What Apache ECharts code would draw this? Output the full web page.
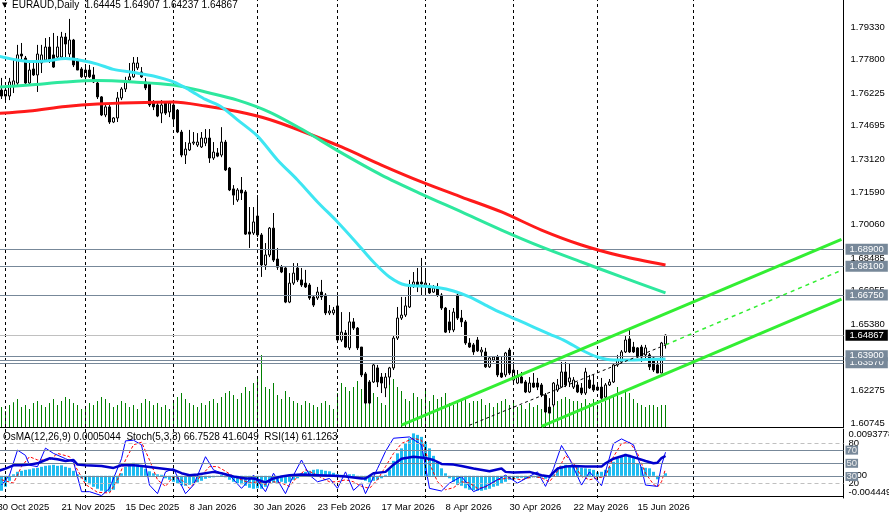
<!DOCTYPE html>
<html><head><meta charset="utf-8">
<script src="https://cdn.jsdelivr.net/npm/echarts@6/dist/echarts.min.js"></script>
<style>html,body{margin:0;padding:0;background:#fff;overflow:hidden}#c{width:889px;height:516px}</style>
</head><body><div id="c"></div>
<script>
// ---------- DATA ----------
const symbolTitle = 'EURAUD,Daily';
const lastBar = [1.64445, 1.64907, 1.64237, 1.64867];
const startDate = '2025-10-30';
const holidays = ['2025-12-25', '2026-01-01'];
const totalSlots = 212;
const monthStarts = ['2025-11-03','2025-12-01','2026-01-02','2026-02-02','2026-03-02','2026-04-01','2026-05-01','2026-06-01','2026-07-03'];
const priceTicks = [1.79330,1.77800,1.76225,1.74695,1.73120,1.71590,1.70060,1.68485,1.66955,1.65380,1.63850,1.62275,1.60745];
const levelLines = [1.68900, 1.68100, 1.66750, 1.63900, 1.63570];
const levelPlain = [1.63670];
const lastPrice = 1.64867;

// [open, close, low, high]
const ohlc = [
[1.7619,1.7647,1.7600,1.7675],[1.7637,1.7609,1.7595,1.7694],[1.7609,1.7637,1.7590,1.7656],[1.7609,1.7675,1.7590,1.7694],
[1.7656,1.7680,1.7623,1.7778],[1.7670,1.7802,1.7661,1.7849],[1.7806,1.7797,1.7769,1.7858],[1.7787,1.7670,1.7661,1.7797],
[1.7670,1.7731,1.7661,1.7764],[1.7736,1.7708,1.7703,1.7778],[1.7708,1.7806,1.7628,1.7849],[1.7764,1.7802,1.7717,1.7849],
[1.7778,1.7839,1.7769,1.7881],[1.7839,1.7778,1.7764,1.7886],[1.7802,1.7745,1.7741,1.7905],[1.7792,1.7839,1.7778,1.7891],
[1.7792,1.7886,1.7787,1.7910],[1.7886,1.7853,1.7792,1.7905],[1.7806,1.7872,1.7792,1.7971],[1.7872,1.7755,1.7745,1.7877],
[1.7778,1.7731,1.7731,1.7787],[1.7736,1.7699,1.7694,1.7745],[1.7699,1.7731,1.7694,1.7745],[1.7731,1.7699,1.7694,1.7755],
[1.7708,1.7675,1.7670,1.7745],[1.7670,1.7605,1.7595,1.7684],[1.7605,1.7520,1.7515,1.7609],[1.7520,1.7558,1.7510,1.7567],
[1.7558,1.7487,1.7478,1.7567],[1.7487,1.7506,1.7482,1.7510],[1.7506,1.7600,1.7487,1.7628],[1.7600,1.7642,1.7590,1.7651],
[1.7642,1.7675,1.7628,1.7699],[1.7684,1.7699,1.7675,1.7764],[1.7699,1.7764,1.7694,1.7792],[1.7741,1.7764,1.7731,1.7792],
[1.7722,1.7699,1.7694,1.7745],[1.7675,1.7647,1.7637,1.7694],[1.7665,1.7567,1.7558,1.7675],[1.7576,1.7558,1.7543,1.7590],
[1.7567,1.7515,1.7510,1.7581],[1.7529,1.7567,1.7482,1.7590],[1.7576,1.7529,1.7520,1.7581],[1.7534,1.7576,1.7510,1.7586],
[1.7567,1.7501,1.7473,1.7576],[1.7543,1.7440,1.7435,1.7548],[1.7440,1.7332,1.7322,1.7450],[1.7332,1.7360,1.7290,1.7393],
[1.7356,1.7388,1.7351,1.7450],[1.7388,1.7393,1.7379,1.7440],[1.7379,1.7393,1.7370,1.7435],[1.7370,1.7412,1.7365,1.7440],
[1.7388,1.7412,1.7374,1.7454],[1.7412,1.7318,1.7295,1.7454],[1.7318,1.7346,1.7309,1.7393],[1.7342,1.7327,1.7322,1.7365],
[1.7332,1.7393,1.7322,1.7463],[1.7393,1.7262,1.7257,1.7403],[1.7271,1.7168,1.7163,1.7276],[1.7173,1.7144,1.7098,1.7191],
[1.7121,1.7168,1.7112,1.7177],[1.7168,1.7154,1.7121,1.7229],[1.7159,1.6961,1.6957,1.7168],[1.6971,1.6961,1.6896,1.7088],
[1.6966,1.7018,1.6957,1.7088],[1.7046,1.6957,1.6947,1.7144],[1.6957,1.6816,1.6760,1.6966],[1.6816,1.6863,1.6793,1.6919],
[1.6863,1.6989,1.6853,1.6994],[1.6989,1.6839,1.6830,1.7060],[1.6844,1.6806,1.6793,1.6896],[1.6806,1.6783,1.6778,1.6816],
[1.6802,1.6642,1.6637,1.6806],[1.6642,1.6731,1.6637,1.6778],[1.6731,1.6778,1.6722,1.6825],[1.6802,1.6746,1.6736,1.6825],
[1.6746,1.6722,1.6713,1.6802],[1.6731,1.6713,1.6708,1.6793],[1.6722,1.6661,1.6652,1.6731],[1.6666,1.6628,1.6619,1.6675],
[1.6661,1.6689,1.6652,1.6713],[1.6689,1.6666,1.6652,1.6746],[1.6675,1.6591,1.6581,1.6684],[1.6591,1.6600,1.6581,1.6628],
[1.6591,1.6605,1.6581,1.6619],[1.6624,1.6464,1.6455,1.6675],[1.6464,1.6501,1.6455,1.6595],[1.6497,1.6431,1.6427,1.6511],
[1.6427,1.6549,1.6417,1.6595],[1.6549,1.6520,1.6511,1.6567],[1.6520,1.6427,1.6417,1.6525],[1.6431,1.6300,1.6290,1.6431],
[1.6305,1.6168,1.6163,1.6314],[1.6267,1.6168,1.6163,1.6276],[1.6267,1.6347,1.6262,1.6356],[1.6333,1.6267,1.6243,1.6347],
[1.6290,1.6262,1.6215,1.6309],[1.6239,1.6290,1.6196,1.6309],[1.6290,1.6333,1.6253,1.6338],[1.6333,1.6473,1.6323,1.6487],
[1.6473,1.6567,1.6464,1.6619],[1.6567,1.6581,1.6558,1.6666],[1.6581,1.6624,1.6572,1.6666],[1.6619,1.6722,1.6614,1.6746],
[1.6722,1.6736,1.6708,1.6783],[1.6736,1.6722,1.6689,1.6802],[1.6736,1.6727,1.6675,1.6849],[1.6722,1.6731,1.6685,1.6793],
[1.6708,1.6685,1.6680,1.6731],[1.6689,1.6708,1.6685,1.6722],[1.6708,1.6675,1.6666,1.6731],[1.6675,1.6614,1.6605,1.6684],
[1.6614,1.6501,1.6497,1.6619],[1.6549,1.6511,1.6497,1.6605],[1.6511,1.6595,1.6501,1.6614],[1.6675,1.6567,1.6558,1.6684],
[1.6567,1.6549,1.6525,1.6605],[1.6549,1.6450,1.6441,1.6558],[1.6450,1.6431,1.6427,1.6473],[1.6441,1.6408,1.6394,1.6450],
[1.6464,1.6413,1.6408,1.6478],[1.6408,1.6417,1.6384,1.6431],[1.6408,1.6338,1.6333,1.6427],[1.6338,1.6380,1.6333,1.6384],
[1.6370,1.6384,1.6361,1.6389],[1.6384,1.6300,1.6290,1.6394],[1.6309,1.6290,1.6286,1.6384],[1.6300,1.6403,1.6290,1.6408],
[1.6417,1.6309,1.6300,1.6427],[1.6276,1.6323,1.6262,1.6361],[1.6262,1.6290,1.6257,1.6323],[1.6290,1.6262,1.6262,1.6314],
[1.6267,1.6220,1.6215,1.6276],[1.6220,1.6262,1.6215,1.6290],[1.6262,1.6243,1.6239,1.6309],[1.6262,1.6243,1.6229,1.6286],
[1.6253,1.6206,1.6196,1.6262],[1.6206,1.6126,1.6121,1.6215],[1.6149,1.6121,1.6121,1.6191],[1.6159,1.6262,1.6149,1.6267],
[1.6229,1.6253,1.6220,1.6281],[1.6243,1.6314,1.6239,1.6361],[1.6314,1.6253,1.6243,1.6361],[1.6267,1.6286,1.6243,1.6356],
[1.6243,1.6276,1.6234,1.6290],[1.6253,1.6220,1.6215,1.6267],[1.6239,1.6215,1.6206,1.6262],[1.6215,1.6314,1.6206,1.6333],
[1.6276,1.6239,1.6234,1.6300],[1.6253,1.6229,1.6220,1.6300],[1.6243,1.6229,1.6225,1.6262],[1.6243,1.6191,1.6182,1.6286],
[1.6196,1.6253,1.6191,1.6262],[1.6253,1.6267,1.6248,1.6281],[1.6267,1.6347,1.6262,1.6356],[1.6347,1.6370,1.6338,1.6394],
[1.6361,1.6408,1.6356,1.6417],[1.6408,1.6464,1.6403,1.6487],[1.6469,1.6408,1.6403,1.6511],[1.6431,1.6408,1.6403,1.6455],
[1.6427,1.6384,1.6380,1.6431],[1.6431,1.6384,1.6361,1.6441],[1.6394,1.6427,1.6370,1.6441],[1.6394,1.6338,1.6323,1.6403],
[1.6380,1.6323,1.6314,1.6384],[1.6347,1.6309,1.6309,1.6370],[1.6309,1.6450,1.6309,1.6455],[1.64445,1.64867,1.64237,1.64907]
];

// tick volume (thousands)
const volumes = [
45,50,40,55,62,70,50,55,45,60, 65,55,50,60,70,55,65,75,70,60,
55,45,50,60,55,65,75,70,60,50, 55,65,60,50,55,45,60,70,65,55,
60,50,55,45,62,75,85,70,60,55, 50,60,55,65,70,60,75,85,90,80,
70,85,100,90,110,125,180,100,95,110, 80,70,90,75,65,60,55,65,60,55,
50,60,65,55,45,85,110,100,90,100, 115,95,70,90,85,75,60,55,105,120,
100,90,70,65,85,75,70,90,65,80, 70,75,85,60,55,65,70,75,60,65,
65,70,55,60,50,60,65,70,55,60, 50,55,45,60,50,55,45,80,55,60,
65,70,75,70,65,65,60,70,60,70, 55,60,65,70,75,100,75,90,85,70,
60,55,50,55,55,50,55,55
];

// moving averages, [bar index, price]
const maFast = [[0,1.7797],[4,1.7781],[8,1.7771],[12,1.7773],[17,1.7785],[21,1.7776],[25,1.7759],[29,1.7734],[34,1.7719],[39,1.7703],[44,1.7675],[48,1.7637],[52,1.7593],[56,1.7558],[60,1.7497],[65,1.7421],[70,1.7309],[75,1.7215],[80,1.7112],[85,1.7018],[90,1.6915],[94,1.6830],[98,1.6760],[102,1.6722],[106,1.6717],[110,1.6710],[114,1.6694],[118,1.6666],[122,1.6628],[126,1.6591],[130,1.6558],[134,1.6525],[138,1.6492],[142,1.6459],[146,1.6417],[150,1.6384],[154,1.6370],[158,1.6370],[162,1.6372],[167,1.6375]];
const maMid = [[0,1.7651],[8,1.7661],[17,1.7675],[25,1.7682],[34,1.7675],[44,1.7661],[52,1.7628],[60,1.7590],[68,1.7534],[76,1.7454],[86,1.7342],[96,1.7238],[106,1.7149],[116,1.7065],[126,1.6980],[136,1.6901],[146,1.6830],[156,1.6760],[167,1.6685]];
const maSlow = [[0,1.7527],[8,1.7539],[17,1.7560],[25,1.7572],[34,1.7578],[44,1.7581],[52,1.7562],[60,1.7536],[68,1.7499],[76,1.7445],[86,1.7370],[96,1.7285],[106,1.7206],[116,1.7135],[126,1.7065],[136,1.6980],[146,1.6910],[156,1.6858],[167,1.6816]];

// trend channel
const channelUpper = [[101,1.6065],[211,1.6936]];
const channelLower = [[136,1.6059],[211,1.6656]];
const channelMid = [[118,1.6064],[167,1.6441]];
const channelMidRay = [[167,1.6441],[211,1.6791]];

// oscillators
const osma = [
-0.0036,-0.0030,-0.0022,-0.0010,0.0003,0.0008,0.0010,0.0012,0.0013,0.0015,0.0016,0.0018,0.0020,0.0021,0.0022,0.0020,0.0021,0.0018,0.0016,0.0010,
0.0003,-0.0005,-0.0012,-0.0017,-0.0022,-0.0026,-0.0030,-0.0032,-0.0032,-0.0028,-0.0015,0.0005,0.0018,0.0024,0.0026,0.0023,0.0019,0.0014,0.0009,0.0005,
0.0003,0.0002,-0.0005,-0.0008,-0.0012,-0.0015,-0.0019,-0.0020,-0.0018,-0.0017,-0.0013,-0.0010,-0.0006,-0.0004,-0.0003,-0.0002,0.0002,-0.0003,-0.0008,-0.0012,
-0.0015,-0.0017,-0.0020,-0.0024,-0.0026,-0.0025,-0.0026,-0.0022,-0.0016,-0.0014,-0.0014,-0.0012,-0.0015,-0.0012,-0.0008,-0.0005,0.0005,0.0008,0.0010,0.0012,
0.0013,0.0012,0.0010,0.0009,0.0006,0.0003,0.0002,0.0001,0.0003,0.0003,-0.0002,-0.0006,-0.0010,-0.0013,-0.0010,-0.0008,-0.0005,0.0002,0.0013,0.0030,
0.0045,0.0055,0.0065,0.0075,0.0085,0.0082,0.0078,0.0068,0.0055,0.0040,0.0028,0.0015,0.0005,-0.0005,-0.0012,-0.0018,-0.0020,-0.0025,-0.0028,-0.0029,
-0.0030,-0.0030,-0.0028,-0.0026,-0.0022,-0.0020,-0.0016,-0.0012,-0.0008,-0.0007,-0.0005,-0.0004,-0.0006,-0.0005,-0.0003,-0.0004,-0.0003,-0.0006,-0.0004,0.0003,
0.0015,0.0020,0.0022,0.0020,0.0020,0.0020,0.0016,0.0015,0.0014,0.0012,0.0007,0.0008,0.0012,0.0018,0.0028,0.0035,0.0040,0.0044,0.0042,0.0038,
0.0025,0.0018,0.0016,0.0015,0.0008,-0.0007,-0.0002,0.0005044
];
const stochMain = [[1,17],[3,32],[5,70],[7,62],[8,47],[10,45],[12,73],[14,65],[17,57],[19,52],[21,7],[23,7],[26,1],[28,12],[31,57],[32,84],[34,85],[36,78],[38,17],[40,4],[42,37],[44,42],[47,4],[49,17],[52,60],[54,40],[56,35],[58,32],[61,12],[64,32],[67,7],[69,35],[72,4],[74,32],[76,55],[78,32],[80,22],[83,27],[85,12],[87,37],[89,9],[91,20],[92,4],[95,42],[97,68],[99,88],[103,90],[106,78],[108,12],[111,8],[113,20],[116,30],[119,7],[122,15],[127,32],[130,20],[135,37],[137,15],[139,42],[141,77],[143,57],[146,17],[148,37],[151,16],[154,80],[156,87],[159,78],[161,42],[162,17],[165,15],[166,47],[167,66.75]];
const stochSignal = [[1,25],[4,20],[6,45],[8,60],[10,55],[13,55],[15,65],[18,60],[20,40],[22,18],[25,6],[28,5],[30,25],[32,55],[34,78],[36,82],[38,55],[40,25],[42,15],[44,30],[46,25],[48,12],[50,25],[53,45],[55,45],[57,38],[59,30],[61,25],[63,20],[65,22],[67,18],[69,22],[71,20],[73,15],[75,30],[77,40],[79,35],[81,28],[83,22],[85,22],[87,25],[89,22],[91,15],[93,12],[95,25],[97,45],[99,65],[101,80],[104,88],[106,85],[108,50],[110,22],[112,10],[114,13],[116,22],[118,20],[120,12],[122,14],[125,25],[128,28],[131,25],[134,30],[136,28],[138,22],[140,38],[142,62],[144,50],[146,30],[148,25],[150,28],[152,30],[154,60],[156,80],[158,82],[160,65],[162,35],[164,18],[165,14],[166,22],[167,41.60]];
const rsi = [[0,38],[2,42],[4,47],[6,47],[8,48],[10,50],[12,55],[13,57.5],[15,56],[17,53.5],[19,55],[20,48],[22,47],[26,46],[29,43],[31,47],[34,47],[36,46],[40,43],[44,40],[46,35],[48,32],[50,33],[54,37],[56,35],[59,30],[62,27],[64,27],[67,21],[69,27],[71,30],[73,32],[76,33],[80,32],[84,31],[87,30],[91,27],[92,27],[94,35],[97,37],[99,48],[101,57],[104,60],[107,58],[109,55],[111,49],[114,48],[116,46],[119,42],[123,38],[126,42],[127,37],[129,36],[133,37],[136,32],[138,30],[140,42],[142,45],[144,46],[147,45],[151,45],[152,50],[154,57],[157,62.5],[158,61],[160,57.5],[162,53.5],[164,50],[165,51],[166,58],[167,61.13]];
const oscLevelsBoxed = [70, 50, 30];
const oscLevelsDashed = [80, 20];
const osmaRange = [-0.004449, 0.0093778];
const oscTitle = 'OsMA(12,26,9) 0.0005044  Stoch(5,3,3) 66.7528 41.6049  RSI(14) 61.1263';

// ---------- BUILD ----------
const MONTHS = ['Jan','Feb','Mar','Apr','May','Jun','Jul','Aug','Sep','Oct','Nov','Dec'];
function buildDates() {
  const out = [];
  const d = new Date(startDate + 'T00:00:00Z');
  while (out.length < totalSlots) {
    const wd = d.getUTCDay();
    const iso = d.toISOString().slice(0, 10);
    if (wd !== 0 && wd !== 6 && holidays.indexOf(iso) < 0) out.push(iso);
    d.setUTCDate(d.getUTCDate() + 1);
  }
  return out;
}
const dates = buildDates();
const nBars = ohlc.length;
const fmtDate = s => { const p = s.split('-'); return (+p[2]) + ' ' + MONTHS[+p[1] - 1] + ' ' + p[0]; };
const sepIdx = monthStarts.map(s => dates.indexOf(s)).filter(i => i >= 0);
const FONT = 'Liberation Sans';
const SLATE = '#778899';

const sepLine = {
  silent: true, symbol: ['none', 'none'], label: { show: false },
  lineStyle: { color: '#000', type: [3, 3], width: 1 },
  data: sepIdx.map(i => ({ xAxis: i }))
};
const boxLabel = (bg, v) => ({
  show: true, position: 'end', distance: 2, color: '#fff', backgroundColor: bg,
  fontFamily: FONT, fontSize: 9.5, padding: [1, 4, 0, 4], lineHeight: 10,
  formatter: v.toFixed(5)
});

const chart = echarts.init(document.getElementById('c'), null, { renderer: 'canvas' });
chart.setOption({
  animation: false,
  backgroundColor: '#fff',
  textStyle: { fontFamily: FONT },
  grid: [
    { left: -4.5, right: 45.5, top: 0, height: 427, outerBoundsMode: 'none', containLabel: false },
    { left: -4.5, right: 45.5, top: 429, height: 69, outerBoundsMode: 'none', containLabel: false }
  ],
  xAxis: [
    { type: 'category', gridIndex: 0, data: dates, boundaryGap: true,
      axisLine: { show: true, lineStyle: { color: '#000', width: 1 } }, axisTick: { show: false },
      axisLabel: { show: false }, splitLine: { show: false } },
    { type: 'category', gridIndex: 1, data: dates, boundaryGap: true,
      axisLine: { show: true, lineStyle: { color: '#000', width: 1 } }, axisTick: { show: false },
      axisLabel: { show: true, color: '#000', fontSize: 9.5, fontFamily: FONT, align: 'left', margin: 4,
        hideOverlap: false,
        interval: (i) => i % 16 === 0 && i < nBars, formatter: v => fmtDate(v) },
      splitLine: { show: false } },
    { type: 'category', gridIndex: 1, data: dates, position: 'top', boundaryGap: true,
      axisLine: { show: true, lineStyle: { color: '#000', width: 1 } }, axisTick: { show: false },
      axisLabel: { show: false } }
  ],
  yAxis: [
    { type: 'value', gridIndex: 0, position: 'right', min: 1.60557, max: 1.80597,
      axisLine: { show: true, lineStyle: { color: '#000' } }, axisTick: { show: false }, splitLine: { show: false },
      axisLabel: { show: true, customValues: priceTicks, color: '#000', fontSize: 9.5, fontFamily: FONT, margin: 7,
        formatter: v => v.toFixed(5) } },
    { type: 'value', gridIndex: 0, show: false, min: 0, max: 1067.5, splitLine: { show: false } },
    { type: 'value', gridIndex: 1, position: 'right', min: -2.6, max: 102,
      axisLine: { show: true, lineStyle: { color: '#000' } }, axisTick: { show: false }, splitLine: { show: false },
      axisLabel: { show: true, customValues: oscLevelsDashed, color: '#000', fontSize: 9.5, fontFamily: FONT, margin: 5 } },
    { type: 'value', gridIndex: 1, position: 'right', min: osmaRange[0], max: osmaRange[1],
      axisLine: { show: false }, axisTick: { show: false }, splitLine: { show: false },
      axisLabel: { show: true, customValues: [osmaRange[1], 0, osmaRange[0]], color: '#000', fontSize: 9.5, fontFamily: FONT, margin: 5,
        formatter: v => v === 0 ? '0.00' : (v > 0 ? '{t|' + v + '}' : '{b|' + v + '}'),
        rich: { t: { padding: [10, 0, 0, 0], fontSize: 9.5, fontFamily: FONT }, b: { padding: [0, 0, 12, 0], fontSize: 9.5, fontFamily: FONT } } } }
  ],
  series: [
    { name: 'vol', type: 'bar', xAxisIndex: 0, yAxisIndex: 1, data: volumes, barWidth: 1,
      itemStyle: { color: '#008000' }, silent: true, z: 1, markLine: sepLine },
    { name: 'levels', type: 'line', xAxisIndex: 0, yAxisIndex: 0, data: [], z: 3,
      markLine: { silent: true, symbol: ['none', 'none'], precision: 5,
        data: [
          ...levelPlain.map(v => ({ yAxis: v, lineStyle: { color: SLATE, width: 1, type: 'solid' }, label: { show: false } })),
          { yAxis: lastPrice, lineStyle: { color: '#c0c0c0', width: 1, type: 'solid' }, label: boxLabel('#000', lastPrice) },
          ...levelLines.slice().reverse().map(v => ({ yAxis: v, lineStyle: { color: SLATE, width: 1, type: 'solid' }, label: boxLabel(SLATE, v) }))
        ] } },
    { name: 'price', type: 'candlestick', xAxisIndex: 0, yAxisIndex: 0, data: ohlc, barWidth: 3, z: 4,
      itemStyle: { color: '#fff', color0: '#000', borderColor: '#000', borderColor0: '#000', borderWidth: 1 } },
    { name: 'maSlow', type: 'line', xAxisIndex: 0, yAxisIndex: 0, data: maSlow, smooth: 0.3, showSymbol: false, z: 5,
      lineStyle: { color: '#ff1a1a', width: 3 } },
    { name: 'maMid', type: 'line', xAxisIndex: 0, yAxisIndex: 0, data: maMid, smooth: 0.3, showSymbol: false, z: 5,
      lineStyle: { color: '#2ee89e', width: 3 } },
    { name: 'maFast', type: 'line', xAxisIndex: 0, yAxisIndex: 0, data: maFast, smooth: 0.3, showSymbol: false, z: 5,
      lineStyle: { color: '#3ee6f2', width: 3 } },
    { name: 'chUp', type: 'line', xAxisIndex: 0, yAxisIndex: 0, data: channelUpper, showSymbol: false, z: 6,
      lineStyle: { color: '#33ee33', width: 3 } },
    { name: 'chLow', type: 'line', xAxisIndex: 0, yAxisIndex: 0, data: channelLower, showSymbol: false, z: 6,
      lineStyle: { color: '#33ee33', width: 3 } },
    { name: 'chMid', type: 'line', xAxisIndex: 0, yAxisIndex: 0, data: channelMid, showSymbol: false, z: 6,
      lineStyle: { color: '#000', width: 1, type: [3, 3] } },
    { name: 'chMidRay', type: 'line', xAxisIndex: 0, yAxisIndex: 0, data: channelMidRay, showSymbol: false, z: 6,
      lineStyle: { color: '#33ee33', width: 1.5, type: [4, 4] } },
    // panel
    { name: 'osma', type: 'bar', xAxisIndex: 1, yAxisIndex: 3, data: osma, barWidth: 3, silent: true, z: 2,
      itemStyle: { color: '#1ebcf0' },
      markLine: { silent: true, symbol: ['none', 'none'], label: { show: false }, precision: 7,
        data: [{ yAxis: 0, lineStyle: { color: SLATE, width: 1, type: 'solid' } }] } },
    { name: 'levelsOsc', type: 'line', xAxisIndex: 1, yAxisIndex: 2, data: [], z: 1,
      markLine: { silent: true, symbol: ['none', 'none'], precision: 0,
        data: [
          ...oscLevelsDashed.map(v => ({ yAxis: v, lineStyle: { color: '#c0c0c0', width: 1, type: [4, 3] }, label: { show: false } })),
          ...oscLevelsBoxed.map(v => ({ yAxis: v, lineStyle: { color: SLATE, width: 1, type: 'solid' },
            label: { show: true, position: 'end', distance: 2, color: '#eee', backgroundColor: SLATE, fontFamily: FONT, fontSize: 9.5,
              padding: [0, 1, 0, 1], lineHeight: 9, formatter: String(v) } }))
        ] } },
    { name: 'sepOsc', type: 'line', xAxisIndex: 1, yAxisIndex: 2, data: [], z: 1, markLine: sepLine },
    { name: 'stochSig', type: 'line', xAxisIndex: 1, yAxisIndex: 2, data: stochSignal, showSymbol: false, z: 3,
      lineStyle: { color: '#ff0000', width: 1, type: [3, 2] } },
    { name: 'stochMain', type: 'line', xAxisIndex: 1, yAxisIndex: 2, data: stochMain, showSymbol: false, z: 4,
      lineStyle: { color: '#0000ff', width: 1 } },
    { name: 'rsi', type: 'line', xAxisIndex: 1, yAxisIndex: 2, data: rsi, showSymbol: false, z: 5,
      lineStyle: { color: '#0000cd', width: 2.5 } }
  ],
  graphic: [
    { type: 'text', left: 2, top: 2, style: { text: '▼', fontSize: 7, fill: '#000', fontFamily: 'DejaVu Sans' } },
    { type: 'text', left: 12, top: 0, style: { text: symbolTitle + '  ' + lastBar.map(v => v.toFixed(5)).join(' '), fontSize: 10, fill: '#000', fontFamily: FONT } },
    { type: 'text', left: 3, top: 432, style: { text: oscTitle, fontSize: 10, fill: '#000', fontFamily: FONT } }
  ]
});
</script></body></html>
